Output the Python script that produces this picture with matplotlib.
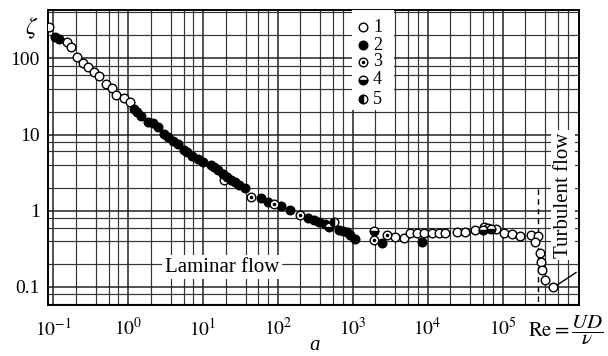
import numpy as np
import matplotlib
matplotlib.use("Agg")
import matplotlib.pyplot as plt
from matplotlib.ticker import FixedLocator, NullFormatter
from matplotlib.patches import Rectangle

plt.rcParams["font.family"] = "serif"
plt.rcParams["font.serif"] = ["Liberation Serif", "DejaVu Serif"]
plt.rcParams["mathtext.fontset"] = "stix"

# --- data ---
# series 1: open circles
re_1 = [0.088, 0.154, 0.175, 0.21, 0.25, 0.295, 0.35, 0.414, 0.50, 0.60, 0.68, 0.87,
        1.05, 19.1,
        3660, 4840, 5820, 7230, 8980, 11500, 14300, 17200, 24900, 31800, 43400,
        57300, 63000, 80600, 106000, 132000, 169000, 238000, 295000, 269000,
        314000, 324000, 334000, 366000, 469000]
zeta_1 = [256, 162, 140, 103, 88, 76, 66, 58, 45.5, 40.3, 32.6, 29.8,
          26.4, 2.56,
          0.455, 0.44, 0.51, 0.51, 0.51, 0.51, 0.51, 0.51, 0.53, 0.53, 0.56,
          0.615, 0.60, 0.58, 0.51, 0.50, 0.47, 0.48, 0.47, 0.39,
          0.28, 0.213, 0.167, 0.124, 0.10]
# series 2: filled circles
re_2 = [0.106, 0.12, 1.19, 1.3, 1.47, 1.83, 2.13, 2.5, 3.0, 3.4, 3.96, 4.6, 5.56,
        6.2, 7.1, 8.5, 10.0, 12.8, 14.1, 16, 18.5, 21, 23.8, 27, 30.4, 36, 60, 74.5,
        110, 143, 256, 300, 350, 430, 649, 740, 830, 920, 1060, 2450, 8430]
zeta_2 = [189, 178, 21.3, 19.5, 17.3, 14.4, 14.0, 12.5, 10.3, 9.3, 8.3, 7.4, 6.35,
          5.9, 5.3, 4.8, 4.4, 4.0, 3.7, 3.4, 3.07, 2.8, 2.56, 2.4, 2.2, 2.0, 1.45, 1.31,
          1.15, 1.03, 0.81, 0.76, 0.72, 0.66, 0.56, 0.54, 0.53, 0.48, 0.42, 0.38, 0.39]
# series 3: circle with dot
re_3 = [44, 89.8, 195, 1915, 2860]
zeta_3 = [1.53, 1.24, 0.886, 0.415, 0.483]
# series 4: lower half filled
re_4 = [476, 1915, 54000, 70000]
zeta_4 = [0.615, 0.546, 0.56, 0.57]
# series 5: half filled (side)
re_5 = [556]
zeta_5 = [0.72]

# pointer line to "Turbulent flow"
pointer_re = [4.9e5, 9.6e5]
pointer_zeta = [0.10, 0.155]
# dashed marker line at the crisis
crisis_re = [3.0e5, 3.0e5]
crisis_zeta = [1.9, 0.058]

x_ticks = [1e-1, 1e0, 1e1, 1e2, 1e3, 1e4, 1e5]
x_labels = [r"$10^{-1}$", r"$10^{0}$", r"$10^{1}$", r"$10^{2}$", r"$10^{3}$",
            r"$10^{4}$", r"$10^{5}$"]
y_ticks = [0.1, 1, 10, 100]
y_labels = ["0.1", "1", "10", "100"]
legend_labels = ["1", "2", "3", "4", "5"]

fig = plt.figure(figsize=(6.08, 3.56), dpi=100)
ax = fig.add_axes([48 / 608, 1 - 305 / 356, 531 / 608, 295 / 356])
ax.set_xscale("log")
ax.set_yscale("log")
ax.set_xlim(0.085, 1.05e6)
ax.set_ylim(0.058, 430)

ax.xaxis.set_major_locator(FixedLocator(x_ticks))
ax.set_xticklabels(x_labels)
ax.yaxis.set_major_locator(FixedLocator(y_ticks))
ax.set_yticklabels(y_labels)

minors_x = [m * 10.0 ** e for e in range(-2, 7) for m in (2, 3.7, 5.5, 7.4)]
minors_y = [m * 10.0 ** e for e in range(-2, 3) for m in (2, 4, 6, 8)]
ax.xaxis.set_minor_locator(FixedLocator(minors_x))
ax.yaxis.set_minor_locator(FixedLocator(minors_y))
ax.xaxis.set_minor_formatter(NullFormatter())
ax.yaxis.set_minor_formatter(NullFormatter())

ax.tick_params(which="both", length=0, labelsize=14)
ax.tick_params(axis="x", pad=9)
ax.tick_params(axis="y", pad=6)
ax.grid(True, which="major", color="#222222", linewidth=1.1)
ax.grid(True, which="minor", color="#333333", linewidth=0.85)
ax.set_axisbelow(True)
for s in ax.spines.values():
    s.set_linewidth(1.4)

ms = 6.2
mk = dict(linestyle="none", marker="o", markersize=ms, markeredgecolor="black",
          markeredgewidth=1.0, zorder=4)
ax.plot(re_1, zeta_1, markerfacecolor="white", **mk)
ax.plot(re_2, zeta_2, markerfacecolor="black", **mk)
ax.plot(re_3, zeta_3, markerfacecolor="white", **mk)
ax.plot(re_3, zeta_3, linestyle="none", marker="o", markersize=1.6,
        color="black", zorder=5)
ax.plot(re_4, zeta_4, fillstyle="bottom", markerfacecolor="black",
        markerfacecoloralt="white", **mk)
ax.plot(re_5, zeta_5, fillstyle="left", markerfacecolor="black",
        markerfacecoloralt="white", **mk)

ax.plot(pointer_re, pointer_zeta, color="black", linewidth=1.0, zorder=3)
ax.plot(crisis_re, crisis_zeta, color="black", linewidth=1.0,
        linestyle=(0, (4, 3)), zorder=3)

# legend drawn by hand (white patch, markers, numbers)
ax.add_patch(Rectangle(((352 - 48) / 531, (305 - 110) / 295), 42 / 531, 100 / 295,
                       transform=ax.transAxes, facecolor="white",
                       edgecolor="none", zorder=3))
leg_y = [27, 45, 62, 80, 99]
styles = [dict(markerfacecolor="white"),
          dict(markerfacecolor="black"),
          dict(markerfacecolor="white"),
          dict(fillstyle="bottom", markerfacecolor="black", markerfacecoloralt="white"),
          dict(fillstyle="left", markerfacecolor="black", markerfacecoloralt="white")]
for lab, yp, st in zip(legend_labels, leg_y, styles):
    ya = (305 - yp) / 295
    ax.plot([(363 - 48) / 531], [ya], transform=ax.transAxes, clip_on=False, **mk, **st)
    if lab == "3":
        ax.plot([(363 - 48) / 531], [ya], transform=ax.transAxes, marker="o",
                markersize=1.6, color="black", zorder=5)
    ax.text((373 - 48) / 531, ya, lab, transform=ax.transAxes, fontsize=13,
            va="center", ha="left", zorder=5)

box = dict(facecolor="white", edgecolor="none", pad=2)
ax.text((222 - 48) / 531, (305 - 267) / 295, "Laminar flow", transform=ax.transAxes,
        fontsize=15, ha="center", va="center", bbox=box, zorder=5)
ax.text((563 - 48) / 531, (305 - 195) / 295, "Turbulent flow", transform=ax.transAxes,
        fontsize=15, ha="center", va="center", rotation=90, bbox=box, zorder=5)

fig.text(32 / 608, 1 - 28 / 356, r"$\zeta$", fontsize=17, ha="center", va="center")
fig.text(315 / 608, 1 - 345 / 356, "a", fontsize=15, style="italic",
         ha="center", va="center")
fig.text(566 / 608, 1 - 330 / 356, r"$\mathrm{Re} = \dfrac{UD}{\nu}$", fontsize=15,
         ha="center", va="center")

fig.savefig("out.png", dpi=100)
